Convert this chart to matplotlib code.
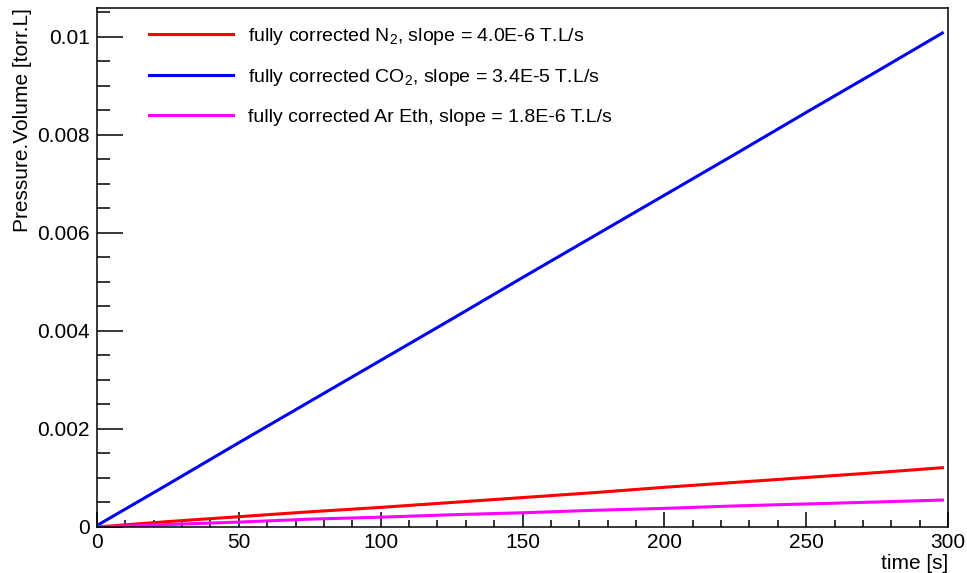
#import packages
import numpy as np
import matplotlib
matplotlib.use('Agg')
import matplotlib.pyplot as plt
from matplotlib.ticker import MultipleLocator

# data (time in s, P.V in torr.L)
time = [0, 25, 50, 75, 100, 125, 150, 175, 200, 225, 250, 275, 298]
pv_n2 = [0.0, 0.00011, 0.00021, 0.00031, 0.00040, 0.00050, 0.00060,
         0.00070, 0.00081, 0.00091, 0.00101, 0.00111, 0.00121]
pv_co2 = [0.00003, 0.00087, 0.00172, 0.00256, 0.00340, 0.00424, 0.00509,
          0.00593, 0.00677, 0.00761, 0.00846, 0.00930, 0.01008]
pv_areth = [0.0, 0.00005, 0.00010, 0.00016, 0.00020, 0.00025, 0.00029,
            0.00034, 0.00038, 0.00043, 0.00047, 0.00051, 0.00055]
labels = [r'fully corrected N$_{2}$, slope = 4.0E-6 T.L/s',
          r'fully corrected CO$_{2}$, slope = 3.4E-5 T.L/s',
          'fully corrected Ar Eth, slope = 1.8E-6 T.L/s']
yticks = [0, 0.002, 0.004, 0.006, 0.008, 0.01]
yticklabels = ['0', '0.002', '0.004', '0.006', '0.008', '0.01']

plt.rcParams['font.family'] = ['Liberation Sans', 'DejaVu Sans']
plt.rcParams['mathtext.fontset'] = 'custom'
plt.rcParams['mathtext.rm'] = 'Liberation Sans'
plt.rcParams['mathtext.it'] = 'Liberation Sans'

fig = plt.figure(figsize=(9.67, 5.73), dpi=100)
ax = fig.add_axes([0.1003, 0.0803, 0.8801, 0.9057])

ax.plot(time, pv_n2, color='#ff0000', lw=2.2, label=labels[0])
ax.plot(time, pv_co2, color='#0000ff', lw=2.2, label=labels[1])
ax.plot(time, pv_areth, color='#ff00ff', lw=2.2, label=labels[2])

ax.set_xlim(0, 300)
ax.set_ylim(0, 0.01059)

# ROOT like axes: ticks inside, only on left and bottom
ax.xaxis.set_major_locator(MultipleLocator(50))
ax.xaxis.set_minor_locator(MultipleLocator(10))
ax.yaxis.set_minor_locator(MultipleLocator(0.0005))
ax.set_yticks(yticks)
ax.set_yticklabels(yticklabels)
ax.tick_params(axis='both', which='both', direction='in', top=False, right=False,
               labelsize=15, width=1.1, color='black')
ax.tick_params(axis='x', which='major', length=10.8, pad=4)
ax.tick_params(axis='x', which='minor', length=5.2)
ax.tick_params(axis='y', which='major', length=18.7, pad=5)
ax.tick_params(axis='y', which='minor', length=9.4)
for s in ax.spines.values():
    s.set_linewidth(1.1)

ax.set_xlabel('time [s]', fontsize=15, loc='right', labelpad=2)
ax.set_ylabel('Pressure.Volume [torr.L]', fontsize=15, loc='top', labelpad=4)

ax.legend(loc='upper left', bbox_to_anchor=(0.04, 1.0), frameon=False,
          fontsize=14, handlelength=4.35, handletextpad=0.75, labelspacing=1.05)

plt.savefig('out.png', dpi=100)
